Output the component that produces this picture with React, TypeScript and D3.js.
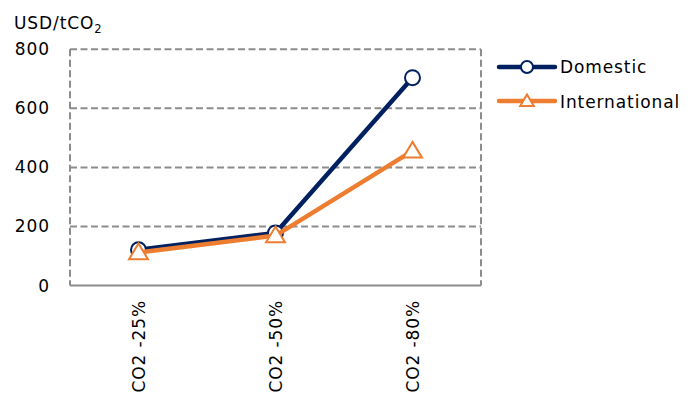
import React from "react";
import * as d3 from "d3";

const categories = ["CO2 -25%", "CO2 -50%", "CO2 -80%"];
const domestic = [121, 178, 704];
const international = [112, 169, 456];
const yTicks = [0, 200, 400, 600, 800];

const W = 696;
const H = 403;
const margin = { left: 70, right: 215, top: 49.3, bottom: 117.5 };
const NAVY = "#002060";
const ORANGE = "#ED7D31";
const GRID = "#8c8c8c";
const FONT = "'DejaVu Sans', Verdana, sans-serif";
const FS = 17;
const LS = 0.9;

export default function App() {
  const x = d3
    .scaleBand<string>()
    .domain(categories)
    .range([margin.left, W - margin.right]);
  const y = d3
    .scaleLinear()
    .domain([0, 800])
    .range([H - margin.bottom, margin.top]);
  const cx = (c: string) => (x(c) as number) + x.bandwidth() / 2;
  const line = d3
    .line<number>()
    .x((_, i) => cx(categories[i]))
    .y((d) => y(d));

  const tri = (px: number, py: number, s = 9) =>
    `M${px},${py - s} L${px + s * 1.05},${py + s * 0.75} L${px - s * 1.05},${py + s * 0.75} Z`;

  const x0 = margin.left;
  const x1 = W - margin.right;

  return (
    <svg
      width={W}
      height={H}
      style={{ position: "absolute", left: 0, top: 0, background: "#fff" }}
      fontFamily={FONT}
      letterSpacing={LS}
    >
      {/* gridlines */}
      {yTicks
        .filter((t) => t > 0)
        .map((t) => (
          <line
            key={t}
            x1={x0}
            x2={x1}
            y1={y(t)}
            y2={y(t)}
            stroke={GRID}
            strokeWidth={2}
            strokeDasharray="7,3.5"
          />
        ))}
      <line x1={x0} x2={x0} y1={y(800)} y2={y(0)} stroke={GRID} strokeWidth={2} strokeDasharray="7,3.5" />
      <line x1={x1} x2={x1} y1={y(800)} y2={y(0)} stroke={GRID} strokeWidth={2} strokeDasharray="7,3.5" />
      <line x1={x0} x2={x1} y1={y(0)} y2={y(0)} stroke={GRID} strokeWidth={2} />

      {/* y tick labels */}
      {yTicks.map((t) => (
        <text key={t} x={50} y={y(t) + 6} textAnchor="end" fontSize={FS} fill="#000">
          {t}
        </text>
      ))}
      <text x={14} y={29} fontSize={FS} fill="#000">
        USD/tCO<tspan fontSize={11.5} dy={4}>2</tspan>
      </text>

      {/* x labels */}
      {categories.map((c) => (
        <text
          key={c}
          transform={`translate(${cx(c) + 6},${300}) rotate(-90)`}
          textAnchor="end"
          fontSize={FS}
          fill="#000"
        >
          {c}
        </text>
      ))}

      {/* series */}
      <path d={line(domestic) || ""} fill="none" stroke={NAVY} strokeWidth={4.5} strokeLinejoin="round" />
      {domestic.map((v, i) => (
        <circle key={i} cx={cx(categories[i])} cy={y(v)} r={7.5} fill="#fff" stroke={NAVY} strokeWidth={2} />
      ))}
      <path d={line(international) || ""} fill="none" stroke={ORANGE} strokeWidth={4.5} strokeLinejoin="round" />
      {international.map((v, i) => (
        <path key={i} d={tri(cx(categories[i]), y(v))} fill="#fff" stroke={ORANGE} strokeWidth={2} />
      ))}

      {/* legend */}
      <line x1={499} x2={555} y1={67} y2={67} stroke={NAVY} strokeWidth={4.5} strokeLinecap="round" />
      <circle cx={527} cy={67} r={6} fill="#fff" stroke={NAVY} strokeWidth={2} />
      <text x={560} y={73} fontSize={FS} fill="#000">Domestic</text>
      <line x1={499} x2={555} y1={101} y2={101} stroke={ORANGE} strokeWidth={4.5} strokeLinecap="round" />
      <path d={tri(527, 101, 6.5)} fill="#fff" stroke={ORANGE} strokeWidth={2} />
      <text x={560} y={108} fontSize={FS} fill="#000">International</text>
    </svg>
  );
}
